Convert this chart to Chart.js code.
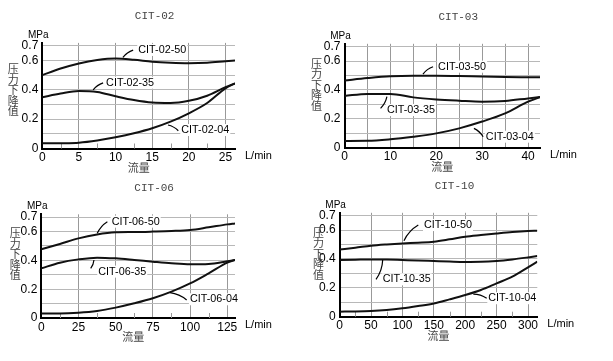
<!DOCTYPE html>
<html><head><meta charset="utf-8">
<script src="https://cdn.jsdelivr.net/npm/chart.js@4/dist/chart.umd.min.js"></script>
<style>
html,body{margin:0;padding:0;background:#fff;width:613px;height:361px;overflow:hidden}
canvas{position:absolute}
</style></head><body>
<canvas id="c1" style="left:0;top:0;width:300px;height:180px"></canvas>
<canvas id="c2" style="left:300px;top:0;width:313px;height:180px"></canvas>
<canvas id="c3" style="left:0;top:180px;width:300px;height:181px"></canvas>
<canvas id="c4" style="left:300px;top:180px;width:313px;height:181px"></canvas>
<script>
// ---------- data ----------
const yGridValues = [0, 0.1, 0.2, 0.3, 0.4, 0.5, 0.6, 0.7];
const yLabelValues = [0, 0.2, 0.4, 0.6, 0.7];
const xUnit = 'L/min';
const yUnit = 'MPa';
const xTitle = '流量';
const yTitle = '压力下降值';

// CIT-02
const cit02Flow = [0, 2.5, 5, 7.5, 10, 12.5, 15, 17.5, 20, 22.5, 25, 26.3];
const cit02_50 = [0.50, 0.545, 0.58, 0.603, 0.613, 0.605, 0.592, 0.585, 0.582, 0.585, 0.595, 0.60];
const cit02_35 = [0.35, 0.375, 0.392, 0.385, 0.356, 0.33, 0.313, 0.31, 0.325, 0.36, 0.418, 0.444];
const cit02_04 = [0.035, 0.036, 0.04, 0.055, 0.077, 0.104, 0.138, 0.183, 0.24, 0.31, 0.41, 0.444];
const cit02XGrid = [0, 5, 10, 15, 20, 25];
const cit02XLabels = [0, 5, 10, 15, 20, 25];
const cit02XMinor = [2.5, 7.5, 12.5, 17.5, 22.5];

// CIT-03
const cit03Flow = [0, 5, 10, 15, 20, 25, 30, 35, 40, 42.6];
const cit03_50 = [0.465, 0.482, 0.495, 0.499, 0.499, 0.497, 0.493, 0.49, 0.488, 0.487];
const cit03_35 = [0.358, 0.372, 0.372, 0.348, 0.334, 0.325, 0.318, 0.323, 0.341, 0.35];
const cit03_04 = [0.045, 0.046, 0.057, 0.075, 0.098, 0.133, 0.18, 0.237, 0.318, 0.35];
const cit03XGrid = [0, 5, 10, 15, 20, 25, 30, 35, 40];
const cit03XLabels = [0, 10, 20, 30, 40];
const cit03XMinor = [];

// CIT-06
const cit06Flow = [0, 12.5, 25, 37.5, 50, 62.5, 75, 87.5, 100, 112.5, 125, 130.2];
const cit06_50 = [0.477, 0.514, 0.553, 0.58, 0.595, 0.597, 0.60, 0.604, 0.611, 0.63, 0.65, 0.657];
const cit06_35 = [0.345, 0.384, 0.407, 0.419, 0.414, 0.403, 0.391, 0.38, 0.373, 0.375, 0.394, 0.403];
const cit06_04 = [0.032, 0.032, 0.037, 0.049, 0.072, 0.102, 0.137, 0.183, 0.24, 0.31, 0.384, 0.403];
const cit06XGrid = [0, 25, 50, 75, 100, 125];
const cit06XLabels = [0, 25, 50, 75, 100, 125];
const cit06XMinor = [12.5, 37.5, 62.5, 87.5, 112.5];

// CIT-10
const cit10Flow = [0, 25, 50, 75, 100, 125, 150, 175, 200, 225, 250, 275, 300, 314.8];
const cit10_50 = [0.466, 0.478, 0.492, 0.501, 0.508, 0.513, 0.52, 0.536, 0.554, 0.566, 0.577, 0.587, 0.594, 0.596];
const cit10_35 = [0.393, 0.395, 0.397, 0.396, 0.393, 0.39, 0.386, 0.382, 0.379, 0.38, 0.386, 0.397, 0.411, 0.42];
const cit10_04 = [0.035, 0.036, 0.039, 0.046, 0.058, 0.074, 0.092, 0.12, 0.15, 0.185, 0.231, 0.277, 0.342, 0.381];
const cit10XGrid = [0, 50, 100, 150, 200, 250, 300];
const cit10XLabels = [0, 50, 100, 150, 200, 250, 300];
const cit10XMinor = [25, 75, 125, 175, 225, 275];

// ---------- drawing ----------
const SANS = '"Liberation Sans", Arial, sans-serif';
const CJK = '"Noto Sans CJK SC", sans-serif';
const MONO = '"Liberation Mono", monospace';
const NOTE_FONT = '10.8px ' + SANS;

const deco = {
  id: 'deco',
  beforeDatasetsDraw(chart, args, o) {
    const {ctx, chartArea: a, scales: {x, y}} = chart;
    ctx.save();
    ctx.strokeStyle = '#999'; ctx.lineWidth = 1;
    (o.minor || []).forEach(v => {
      const px = Math.round(x.getPixelForValue(v)) + 0.5;
      ctx.beginPath(); ctx.moveTo(px, a.bottom); ctx.lineTo(px, a.bottom - 5); ctx.stroke();
    });
    // white boxes behind annotation text
    ctx.font = NOTE_FONT;
    (o.notes || []).forEach(n => {
      const tx = x.getPixelForValue(n.at[0]), ty = y.getPixelForValue(n.at[1]);
      const w = ctx.measureText(n.text).width;
      ctx.fillStyle = '#fff';
      ctx.fillRect(tx - 1, ty - 6, w + 2, 12);
    });
    ctx.restore();
  },
  afterDatasetsDraw(chart, args, o) {
    const {ctx, chartArea: a, scales: {x, y}} = chart;
    ctx.save();
    // annotations
    ctx.font = NOTE_FONT;
    ctx.textBaseline = 'middle'; ctx.textAlign = 'left';
    (o.notes || []).forEach(n => {
      const tx = x.getPixelForValue(n.at[0]), ty = y.getPixelForValue(n.at[1]);
      ctx.fillStyle = '#000';
      ctx.fillText(n.text, tx, ty);
      const fx = x.getPixelForValue(n.from[0]), fy = y.getPixelForValue(n.from[1]);
      const ex = x.getPixelForValue(n.to[0]), ey = y.getPixelForValue(n.to[1]);
      ctx.strokeStyle = '#000'; ctx.lineWidth = 1.2;
      ctx.beginPath(); ctx.moveTo(fx, fy);
      ctx.quadraticCurveTo((fx + ex) / 2 + (ey - fy) * 0.15, (fy + ey) / 2 - (ex - fx) * 0.15, ex, ey);
      ctx.stroke();
    });
    // title
    ctx.font = '11px ' + MONO; ctx.fillStyle = '#444'; ctx.textAlign = 'center';
    ctx.fillText(o.title, (a.left + a.right) / 2 + 16, a.top - 26.5);
    // units
    ctx.font = '10px ' + SANS; ctx.fillStyle = '#000';
    ctx.fillText(yUnit, a.left - 4, a.top - 8);
    ctx.font = '11px ' + SANS; ctx.textAlign = 'left';
    ctx.fillText(xUnit, a.right + 10, a.bottom + 7);
    // axis titles
    ctx.font = '11px ' + CJK; ctx.fillStyle = '#444'; ctx.textAlign = 'center';
    ctx.fillText(xTitle, (a.left + a.right) / 2 + o.xtDx, a.bottom + 19);
    [...yTitle].forEach((ch, i) => ctx.fillText(ch, a.left + o.vDx, a.top + o.vDy + i * 10.5));
    ctx.restore();
  }
};

function yLabel(v) {
  const r = Math.round(v * 10) / 10;
  if (Math.abs(v - r) > 1e-6) return '';
  return yLabelValues.some(t => Math.abs(t - r) < 1e-6) ? String(r) : '';
}

function makeChart(id, s, L) {
  const cv = document.getElementById(id);
  cv.width = L.w; cv.height = L.h;
  new Chart(cv, {
    type: 'line',
    data: {
      datasets: s.series.map(([name, vals]) => ({
        label: name,
        data: s.flow.map((fx, i) => ({x: fx, y: vals[i]})),
        borderColor: '#111', borderWidth: 2, pointRadius: 0,
        cubicInterpolationMode: 'monotone', fill: false
      }))
    },
    options: {
      responsive: false, animation: false, events: [],
      layout: {padding: {left: 0, right: L.padRight, top: L.padTop, bottom: 0}},
      plugins: {
        legend: {display: false}, tooltip: {enabled: false},
        deco: {title: s.title, minor: s.minor, notes: L.notes, vDx: L.vDx, vDy: L.vDy, xtDx: L.xtDx || 0}
      },
      scales: {
        x: {
          type: 'linear', min: 0, max: s.xMax,
          afterBuildTicks: sc => { sc.ticks = s.xGrid.map(v => ({value: v})); },
          afterFit: sc => { sc.height = L.xHeight; },
          ticks: {
            callback: v => s.xLabels.includes(v) ? String(v) : '',
            font: {family: SANS, size: 12}, color: '#000', padding: 2,
            maxRotation: 0, autoSkip: false
          },
          grid: {color: '#999', lineWidth: 1, drawTicks: false},
          border: {color: '#000', width: 2}
        },
        y: {
          type: 'linear', min: 0, max: 0.72,
          afterBuildTicks: sc => { sc.ticks = yGridValues.map(v => ({value: v})); },
          afterFit: sc => { sc.width = L.yWidth; },
          ticks: {
            callback: yLabel, font: {family: SANS, size: 12}, color: '#000', padding: 4, autoSkip: false
          },
          grid: {color: '#b8b8b8', lineWidth: 1, drawTicks: false},
          border: {color: '#000', width: 2}
        }
      }
    },
    plugins: [deco]
  });
}

makeChart('c1', {
  title: 'CIT-02', flow: cit02Flow, xMax: 26.3, xGrid: cit02XGrid, xLabels: cit02XLabels, minor: cit02XMinor,
  series: [['CIT-02-50', cit02_50], ['CIT-02-35', cit02_35], ['CIT-02-04', cit02_04]]
}, {
  w: 300, h: 180, yWidth: 42.3, xHeight: 31.5, padRight: 65, padTop: 42.9, vDx: -29, vDy: 26,
  notes: [
    {text: 'CIT-02-50', at: [13.1, 0.672], from: [11.0, 0.622], to: [12.4, 0.671]},
    {text: 'CIT-02-35', at: [8.71, 0.449], from: [6.94, 0.399], to: [8.3, 0.447]},
    {text: 'CIT-02-04', at: [18.97, 0.126], from: [17.15, 0.16], to: [18.56, 0.121]}
  ]
});

makeChart('c2', {
  title: 'CIT-03', flow: cit03Flow, xMax: 42.6, xGrid: cit03XGrid, xLabels: cit03XLabels, minor: cit03XMinor,
  series: [['CIT-03-50', cit03_50], ['CIT-03-35', cit03_35], ['CIT-03-04', cit03_04]]
}, {
  w: 313, h: 180, yWidth: 44.5, xHeight: 32.5, padRight: 73, padTop: 43.8, vDx: -28, vDy: 20,
  notes: [
    {text: 'CIT-03-50', at: [20.4, 0.561], from: [17.1, 0.51], to: [19.3, 0.561]},
    {text: 'CIT-03-35', at: [9.24, 0.26], from: [9.24, 0.353], to: [7.86, 0.272]},
    {text: 'CIT-03-04', at: [30.8, 0.075], from: [28.2, 0.133], to: [30.2, 0.075]}
  ]
});

makeChart('c3', {
  title: 'CIT-06', flow: cit06Flow, xMax: 130.2, xGrid: cit06XGrid, xLabels: cit06XLabels, minor: cit06XMinor,
  series: [['CIT-06-50', cit06_50], ['CIT-06-35', cit06_35], ['CIT-06-04', cit06_04]]
}, {
  w: 300, h: 181, yWidth: 41.3, xHeight: 43, padRight: 65, padTop: 34.3, vDx: -26, vDy: 19, xtDx: -5,
  notes: [
    {text: 'CIT-06-50', at: [47.3, 0.669], from: [37.6, 0.588], to: [44.4, 0.669]},
    {text: 'CIT-06-35', at: [38.3, 0.322], from: [35.4, 0.403], to: [33.2, 0.345]},
    {text: 'CIT-06-04', at: [99.9, 0.13], from: [86.5, 0.176], to: [97.7, 0.125]}
  ]
});

makeChart('c4', {
  title: 'CIT-10', flow: cit10Flow, xMax: 314.8, xGrid: cit10XGrid, xLabels: cit10XLabels, minor: cit10XMinor,
  series: [['CIT-10-50', cit10_50], ['CIT-10-35', cit10_35], ['CIT-10-04', cit10_04]]
}, {
  w: 313, h: 181, yWidth: 39.6, xHeight: 44.3, padRight: 75.7, padTop: 32.8, vDx: -21, vDy: 20,
  notes: [
    {text: 'CIT-10-50', at: [134.4, 0.635], from: [102.5, 0.527], to: [125.3, 0.635]},
    {text: 'CIT-10-35', at: [68.6, 0.259], from: [68.6, 0.393], to: [58, 0.259]},
    {text: 'CIT-10-04', at: [236.8, 0.128], from: [212.9, 0.157], to: [234.2, 0.128]}
  ]
});
</script>
</body></html>
